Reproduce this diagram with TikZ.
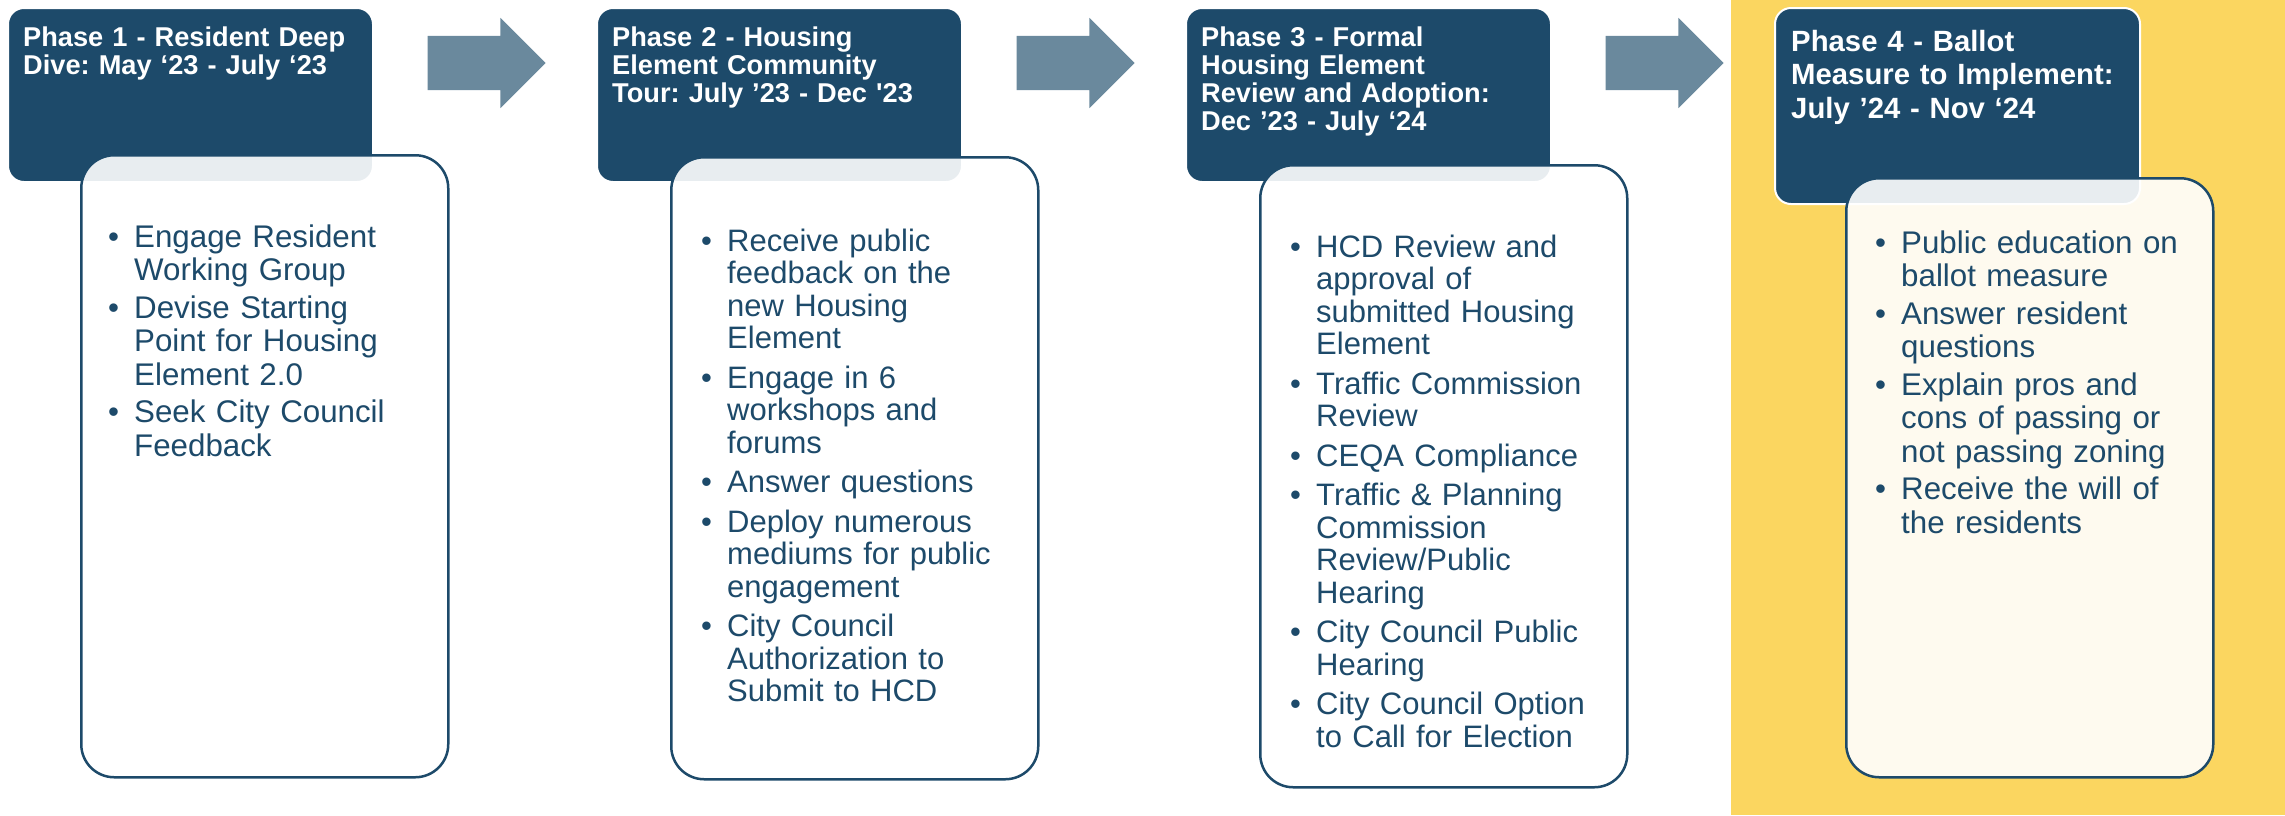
\documentclass[tikz,border=0pt]{standalone}
\usepackage{fontspec}
\setmainfont{Liberation Sans}[Ligatures=TeXOff]
\usetikzlibrary{positioning,calc,shapes.arrows}

\definecolor{phaseBlue}{HTML}{1D4A6A}
\definecolor{arrowGray}{HTML}{6A899D}
\definecolor{ballotYellow}{HTML}{FBD660}

\newlength{\phaseGap}
\setlength{\phaseGap}{4pt}
\newcommand{\phaseItem}[1]{\hangindent=26pt\hangafter=1\noindent\makebox[26pt][l]{\textbullet}#1\par\vspace{\phaseGap}}

\begin{document}
\frenchspacing
\begin{tikzpicture}[x=1pt,y=1pt,every text node part/.style={align=left}]
\tikzset{headFont/.style={font=\fontsize{27.2}{28.3}\selectfont\bfseries}}
\tikzset{bodyFont/.style={font=\fontsize{31.3}{33.5}\selectfont}}
\tikzset{headBox/.style={draw=white,line width=2pt,fill=phaseBlue,rounded corners=16pt,minimum width=365pt,minimum height=174pt,inner sep=0pt}}
\tikzset{bodyBox/.style={draw=phaseBlue,line width=2.5pt,fill=white,fill opacity=0.9,rounded corners=33pt,minimum width=367pt,minimum height=622pt,inner sep=0pt}}
\tikzset{headText/.style={headFont,text=white,anchor=base west,inner sep=0pt,text width=345pt}}
\tikzset{bodyText/.style={bodyFont,text=phaseBlue,anchor=base west,inner sep=0pt,text width=330pt}}
\tikzset{tightBody/.style={font=\fontsize{31}{32.5}\selectfont,execute at begin node={\setlength{\phaseGap}{7pt}}}}
\tikzset{phaseArrow/.style={single arrow,fill=arrowGray,draw=none,minimum height=118pt,inner xsep=0pt,inner ysep=27pt,single arrow head extend=18pt}}

\useasboundingbox (0,0) rectangle (2285,-815);
\fill[ballotYellow] (1731,0) rectangle (2285,-815);

\node[headBox,anchor=north west] (h1) at (7,-7) {};
\node[headBox,right=222pt of h1.north east,anchor=north west] (h2) {};
\node[headBox,right=222pt of h2.north east,anchor=north west] (h3) {};
\node[headBox,minimum height=196pt,right=222pt of h3.north east,anchor=north west] (h4) {};

\node[phaseArrow] (a1) at ($(h1.north east)!.5!(h2.north west)+(-12pt,-56pt)$) {};
\node[phaseArrow] (a2) at ($(h2.north east)!.5!(h3.north west)+(-12pt,-56pt)$) {};
\node[phaseArrow] (a3) at ($(h3.north east)!.5!(h4.north west)+(-12pt,-56pt)$) {};

\node[headText] (l1) at ([xshift=16pt,yshift=-39pt]h1.north west) {Phase 1 - Resident Deep\\Dive: May ‘23 - July ‘23};
\node[headText] (l2) at ([xshift=16pt,yshift=-39pt]h2.north west) {Phase 2 - Housing\\Element Community\\Tour: July ’23 - Dec '23};
\node[headText] (l3) at ([xshift=16pt,yshift=-39pt]h3.north west) {Phase 3 - Formal\\Housing Element\\Review and Adoption:\\Dec ’23 - July ‘24};
\node[headText,font=\fontsize{29.3}{33.8}\selectfont\bfseries] (l4) at ([xshift=17pt,yshift=-44pt]h4.north west) {Phase 4 - Ballot\\Measure to Implement:\\July ’24 - Nov ‘24};

\node[bodyBox,anchor=north west] (b1) at ([xshift=73pt,yshift=29pt]h1.south west) {};
\node[bodyBox,anchor=north west] (b2) at ([xshift=74pt,yshift=27pt]h2.south west) {};
\node[bodyBox,anchor=north west] (b3) at ([xshift=74pt,yshift=19pt]h3.south west) {};
\node[bodyBox,minimum height=599pt,anchor=north west] (b4) at ([xshift=71pt,yshift=28pt]h4.south west) {};

\node[bodyText] (t1) at ([xshift=28pt,yshift=-93pt]b1.north west) {%
\phaseItem{Engage Resident\newline Working Group}
\phaseItem{Devise Starting\newline Point for Housing\newline Element 2.0}
\phaseItem{Seek City Council\newline Feedback}};
\node[bodyText,tightBody] (t2) at ([xshift=31pt,yshift=-95pt]b2.north west) {%
\phaseItem{Receive public\newline feedback on the\newline new Housing\newline Element}
\phaseItem{Engage in 6\newline workshops and\newline forums}
\phaseItem{Answer questions}
\phaseItem{Deploy numerous\newline mediums for public\newline engagement}
\phaseItem{City Council\newline Authorization to\newline Submit to HCD}};
\node[bodyText,tightBody] (t3) at ([xshift=31pt,yshift=-93pt]b3.north west) {%
\phaseItem{HCD Review and\newline approval of\newline submitted Housing\newline Element}
\phaseItem{Traffic Commission\newline Review}
\phaseItem{CEQA Compliance}
\phaseItem{Traffic \& Planning\newline Commission\newline Review/Public\newline Hearing}
\phaseItem{City Council Public\newline Hearing}
\phaseItem{City Council Option\newline to Call for Election}};
\node[bodyText] (t4) at ([xshift=30pt,yshift=-76pt]b4.north west) {%
\phaseItem{Public education on\newline ballot measure}
\phaseItem{Answer resident\newline questions}
\phaseItem{Explain pros and\newline cons of passing or\newline not passing zoning}
\phaseItem{Receive the will of\newline the residents}};

\end{tikzpicture}
\end{document}
